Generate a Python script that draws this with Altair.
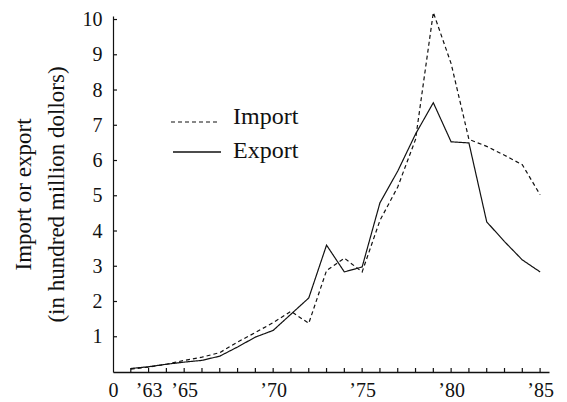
import altair as alt
import pandas as pd

years = [1962, 1963, 1964, 1965, 1966, 1967, 1968, 1969, 1970, 1971, 1972, 1973,
         1974, 1975, 1976, 1977, 1978, 1979, 1980, 1981, 1982, 1983, 1984, 1985]
import_vals = [0.08, 0.14, 0.22, 0.33, 0.42, 0.55, 0.85, 1.12, 1.40, 1.72, 1.38, 2.88,
               3.23, 2.84, 4.30, 5.25, 6.60, 10.2, 8.75, 6.60, 6.40, 6.15, 5.88, 5.03]
export_vals = [0.10, 0.15, 0.22, 0.28, 0.33, 0.45, 0.71, 0.99, 1.18, 1.64, 2.10, 3.60,
               2.84, 2.98, 4.80, 5.70, 6.75, 7.64, 6.53, 6.50, 4.26, 3.70, 3.18, 2.84]
series_names = ["Import", "Export"]
y_ticks = [1, 2, 3, 4, 5, 6, 7, 8, 9, 10]
x_label_years = [1961, 1963, 1965, 1970, 1975, 1980, 1985]
x_label_texts = ["0", "\u201963", "\u201965", "\u201970", "\u201975", "\u201980", "\u201985"]
y_title = ["Import or export", "(in hundred million dollors)"]

FONT = "Liberation Serif"
W, H = 436, 356

df = pd.DataFrame({
    "year": years * 2,
    "value": import_vals + export_vals,
    "series": [series_names[0]] * len(years) + [series_names[1]] * len(years),
})

# label expression built from the label lists
expr = "''"
for yv, tx in reversed(list(zip(x_label_years, x_label_texts))):
    expr = f"datum.value == {yv} ? '{tx}' : ({expr})"

xscale = alt.Scale(domain=[1961, 1985.5], nice=False, zero=False)
yscale = alt.Scale(domain=[0, 10.1], nice=False)

x_axis = alt.Axis(values=x_label_years, labelExpr=expr, tickSize=0, grid=False,
                  domainColor="#111", domainWidth=1.3, labelFont=FONT, labelFontSize=20,
                  labelColor="#111", labelPadding=8, title=None, labelFlush=False,
                  labelOverlap=False)
y_axis = alt.Axis(values=y_ticks, tickSize=0, grid=False, domainColor="#111",
                  domainWidth=1.2, labelFont=FONT, labelFontSize=20, labelColor="#111",
                  labelPadding=11, title=y_title, titleFont=FONT, titleFontSize=23,
                  titleFontWeight="normal", titleColor="#111", titleLineHeight=33,
                  titlePadding=14, labelOverlap=False)

lines = alt.Chart(df).mark_line(color="#111", strokeWidth=1.2).encode(
    x=alt.X("year:Q", scale=xscale, axis=x_axis),
    y=alt.Y("value:Q", scale=yscale, axis=y_axis),
    strokeDash=alt.StrokeDash("series:N", scale=alt.Scale(domain=series_names,
                                                          range=[[4, 3], [1, 0]]),
                              legend=None),
    detail="series:N",
)

xt = pd.DataFrame({"year": years})
x_ticks = alt.Chart(xt).mark_rule(color="#111", strokeWidth=1.2).encode(
    x=alt.X("year:Q", scale=xscale, axis=x_axis),
    y=alt.value(H), y2=alt.value(H - 4),
)
yt = pd.DataFrame({"v": y_ticks})
y_tick_marks = alt.Chart(yt).mark_rule(color="#111", strokeWidth=1.2).encode(
    y=alt.Y("v:Q", scale=yscale, axis=y_axis),
    x=alt.value(0), x2=alt.value(4),
)

leg_imp = pd.DataFrame({"series": [series_names[0]]})
leg_exp = pd.DataFrame({"series": [series_names[1]]})
imp_line = alt.Chart(leg_imp).mark_rule(color="#111", strokeWidth=1.2, strokeDash=[4, 3]).encode(
    x=alt.value(58), x2=alt.value(107), y=alt.value(106))
exp_line = alt.Chart(leg_exp).mark_rule(color="#111", strokeWidth=1.3).encode(
    x=alt.value(60), x2=alt.value(108), y=alt.value(136))
imp_text = alt.Chart(leg_imp).mark_text(align="left", baseline="middle", font=FONT,
                                        fontSize=24, color="#111").encode(
    x=alt.value(120), y=alt.value(101), text="series:N")
exp_text = alt.Chart(leg_exp).mark_text(align="left", baseline="middle", font=FONT,
                                        fontSize=24, color="#111").encode(
    x=alt.value(120), y=alt.value(135), text="series:N")

chart = alt.layer(lines, x_ticks, y_tick_marks, imp_line, exp_line, imp_text, exp_text).properties(
    width=W, height=H,
    padding={"left": 105, "top": 8, "right": 10, "bottom": 30},
    autosize=alt.AutoSizeParams(type="none"),
    background="white",
).configure_view(stroke=None).configure_axis(
    labelFont=FONT, titleFont=FONT, labelOverlap=False, grid=False
)

chart.save("out.html", embed_options={"renderer": "svg", "actions": False})
